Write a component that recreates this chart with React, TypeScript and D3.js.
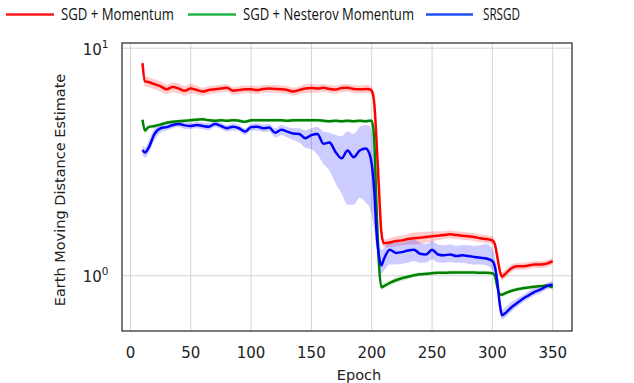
import React from "react";
import * as d3 from "d3";

const epochs = [10,12,15,20,25,30,35,40,45,50,55,60,65,70,75,80,85,90,95,100,105,110,115,120,125,130,135,140,145,150,155,160,165,170,175,180,185,190,195,198,200,202,204,206,208,210,215,220,225,230,235,240,245,250,255,260,265,270,275,280,285,290,295,300,302,304,306,308,310,315,320,325,330,335,340,345,350];

const sgdMomentum = [8.6,7.15,7.1,6.95,6.8,6.6,6.75,6.65,6.5,6.65,6.55,6.45,6.55,6.6,6.65,6.7,6.5,6.55,6.6,6.6,6.55,6.62,6.65,6.62,6.6,6.55,6.45,6.55,6.65,6.68,6.65,6.7,6.62,6.58,6.68,6.7,6.62,6.6,6.62,6.6,6.5,5.8,3.9,2.4,1.55,1.39,1.4,1.42,1.43,1.45,1.46,1.47,1.48,1.49,1.5,1.51,1.52,1.51,1.5,1.49,1.48,1.46,1.45,1.43,1.38,1.22,1.06,0.99,1.01,1.07,1.1,1.1,1.11,1.12,1.12,1.13,1.16];
const sgdMomentumSpread = [0.09,0.05,0.05,0.05,0.05,0.05,0.05,0.05,0.05,0.05,0.045,0.04,0.04,0.04,0.04,0.04,0.04,0.04,0.04,0.04,0.04,0.04,0.04,0.04,0.04,0.04,0.04,0.04,0.045,0.045,0.04,0.04,0.04,0.04,0.04,0.04,0.04,0.04,0.04,0.04,0.04,0.04,0.04,0.04,0.04,0.04,0.045,0.05,0.05,0.055,0.06,0.06,0.055,0.05,0.045,0.04,0.04,0.04,0.04,0.04,0.04,0.04,0.04,0.04,0.04,0.04,0.04,0.04,0.04,0.04,0.035,0.035,0.035,0.035,0.035,0.035,0.035];

const sgdNesterov = [4.85,4.35,4.5,4.55,4.62,4.7,4.75,4.78,4.8,4.83,4.85,4.87,4.82,4.8,4.82,4.8,4.83,4.8,4.75,4.82,4.83,4.82,4.82,4.83,4.82,4.8,4.83,4.83,4.82,4.83,4.82,4.8,4.78,4.8,4.78,4.8,4.78,4.8,4.78,4.8,4.8,4.0,2.0,1.12,0.89,0.9,0.93,0.955,0.975,0.99,1.005,1.015,1.02,1.025,1.03,1.03,1.033,1.033,1.033,1.033,1.033,1.03,1.03,1.025,1.0,0.9,0.83,0.825,0.835,0.855,0.87,0.88,0.888,0.895,0.9,0.905,0.89];
const sgdNesterovSpread = [0.05,0.03,0.02,0.02,0.02,0.02,0.02,0.02,0.02,0.02,0.02,0.02,0.02,0.02,0.02,0.02,0.02,0.02,0.02,0.02,0.02,0.02,0.02,0.02,0.02,0.02,0.02,0.02,0.02,0.02,0.02,0.02,0.02,0.02,0.02,0.02,0.02,0.02,0.02,0.02,0.02,0.02,0.03,0.03,0.03,0.03,0.03,0.03,0.03,0.025,0.02,0.02,0.02,0.02,0.02,0.02,0.02,0.02,0.02,0.02,0.02,0.02,0.02,0.02,0.02,0.02,0.025,0.025,0.025,0.02,0.02,0.02,0.02,0.02,0.02,0.02,0.025];

const srsgd = [3.57,3.48,3.65,4.2,4.45,4.5,4.6,4.65,4.58,4.55,4.6,4.55,4.52,4.65,4.55,4.45,4.52,4.45,4.3,4.5,4.52,4.45,4.48,4.25,4.38,4.3,4.22,4.2,4.02,4.15,4.2,3.8,3.85,3.5,3.28,3.55,3.32,3.55,3.62,3.45,3.1,2.4,1.55,1.22,1.11,1.18,1.3,1.26,1.27,1.29,1.3,1.25,1.24,1.3,1.24,1.23,1.24,1.22,1.23,1.22,1.21,1.2,1.19,1.16,1.1,0.95,0.76,0.67,0.68,0.72,0.755,0.79,0.82,0.85,0.87,0.9,0.915];
const srsgdLow = [3.4,3.3,3.45,3.95,4.25,4.35,4.45,4.5,4.42,4.42,4.45,4.4,4.35,4.5,4.4,4.3,4.35,4.3,4.15,4.35,4.35,4.28,4.3,4.05,4.15,4.05,3.95,3.85,3.65,3.6,3.4,3.1,2.9,2.55,2.3,2.05,2.05,2.2,2.1,2.0,1.85,1.6,1.3,1.1,1.02,1.05,1.12,1.12,1.13,1.14,1.16,1.14,1.14,1.18,1.14,1.14,1.15,1.14,1.14,1.13,1.12,1.12,1.11,1.06,1.0,0.88,0.72,0.64,0.65,0.69,0.725,0.76,0.79,0.82,0.84,0.87,0.88];
const srsgdHigh = [3.75,3.65,3.9,4.45,4.62,4.65,4.75,4.8,4.72,4.7,4.75,4.7,4.68,4.8,4.7,4.6,4.68,4.6,4.45,4.65,4.68,4.62,4.65,4.45,4.6,4.5,4.45,4.45,4.35,4.45,4.5,4.3,4.25,4.15,4.1,4.3,4.2,4.5,4.6,4.55,4.3,3.5,2.0,1.45,1.3,1.32,1.42,1.4,1.4,1.43,1.44,1.4,1.38,1.42,1.37,1.36,1.37,1.35,1.36,1.36,1.35,1.36,1.38,1.32,1.22,1.05,0.82,0.71,0.72,0.76,0.79,0.82,0.855,0.885,0.9,0.93,0.95];

const xTicks = [0,50,100,150,200,250,300,350];
const yTicks = [1,10];
const yTickExp = ["0","1"];
const legendLabels = ["SGD + Momentum","SGD + Nesterov Momentum","SRSGD"];

export default function App() {
  const W = 634, H = 383;
  const L = 122, R = 572, T = 43, B = 331;
  const x = d3.scaleLinear().domain([-7, 366]).range([L, R]);
  const y = d3.scaleLog().domain([Math.pow(10, -0.243), Math.pow(10, 1.023)]).range([B, T]);

  const mk = (vals: number[]) => vals.map((v, i) => [epochs[i], v] as [number, number]);
  const line = d3.line<[number, number]>().x(d => x(d[0])).y(d => y(d[1])).curve(d3.curveMonotoneX);
  type Band = { e: number; lo: number; hi: number };
  const area = d3.area<Band>().x(d => x(d.e)).y0(d => y(d.lo)).y1(d => y(d.hi)).curve(d3.curveMonotoneX);

  const relBand = (vals: number[], sp: number[]) => vals.map((v, i) => ({ e: epochs[i], lo: v * (1 - sp[i]), hi: v * (1 + sp[i]) }));
  const absBand = (lo: number[], hi: number[]) => lo.map((v, i) => ({ e: epochs[i], lo: v, hi: hi[i] }));

  const series = [
    { vals: sgdMomentum, band: relBand(sgdMomentum, sgdMomentumSpread), color: "#ff0000", fill: "rgba(255,0,0,0.2)" },
    { vals: sgdNesterov, band: relBand(sgdNesterov, sgdNesterovSpread), color: "#008000", fill: "rgba(0,160,0,0.15)" },
    { vals: srsgd, band: absBand(srsgdLow, srsgdHigh), color: "#0000ff", fill: "rgba(0,0,255,0.2)" },
  ];

  const legendItems = [
    { x1: 6, x2: 54, tx: 61, tw: 113, color: "#ff1a1a" },
    { x1: 188, x2: 236, tx: 243, tw: 171, color: "#22b24c" },
    { x1: 426, x2: 473, tx: 483, tw: 37, color: "#1f4ff5" },
  ];

  const tickFont = "'DejaVu Sans', sans-serif";

  return (
    <svg width={W} height={H} style={{ position: "absolute", left: 0, top: 0, background: "#fff" }}>
      <defs>
        <clipPath id="plotclip">
          <rect x={L} y={T} width={R - L} height={B - T} />
        </clipPath>
      </defs>
      <rect x={0} y={0} width={W} height={H} fill="#fff" />
      {/* grid */}
      {xTicks.map(t => (
        <line key={"gx" + t} x1={x(t)} x2={x(t)} y1={T} y2={B} stroke="#d4d4d4" strokeWidth={1} />
      ))}
      {yTicks.map(t => (
        <line key={"gy" + t} x1={L} x2={R} y1={y(t)} y2={y(t)} stroke="#d4d4d4" strokeWidth={1} />
      ))}
      <g clipPath="url(#plotclip)">
        {series.map((s, i) => (
          <path key={"b" + i} d={area(s.band) || ""} fill={s.fill} stroke="none" />
        ))}
        {series.map((s, i) => (
          <path key={"l" + i} d={line(mk(s.vals)) || ""} fill="none" stroke={s.color} strokeWidth={2.5} strokeLinejoin="round" />
        ))}
      </g>
      <rect x={L} y={T} width={R - L} height={B - T} fill="none" stroke="#333" strokeWidth={1.3} />
      {/* x tick labels */}
      {xTicks.map(t => (
        <text key={"xt" + t} x={x(t)} y={357.5} textAnchor="middle" fontFamily={tickFont} fontSize={15} fill="#222">{t}</text>
      ))}
      {/* y tick labels */}
      {yTicks.map((t, i) => (
        <text key={"yt" + t} x={108.5} y={y(t) + 6.5} textAnchor="end" fontFamily={tickFont} fontSize={15} fill="#222">
          10<tspan dy={-7} fontSize={10.5}>{yTickExp[i]}</tspan>
        </text>
      ))}
      <text x={359} y={380} textAnchor="middle" fontFamily={tickFont} fontSize={14.5} fill="#222">Epoch</text>
      <text transform={`translate(65,190) rotate(-90)`} textAnchor="middle" fontFamily={tickFont} fontSize={14.5} fill="#222">Earth Moving Distance Estimate</text>
      {/* legend */}
      {legendItems.map((it, i) => (
        <g key={"lg" + i}>
          <line x1={it.x1} x2={it.x2} y1={14.5} y2={14.5} stroke={it.color} strokeWidth={2.5} />
          <text x={it.tx} y={20} fontFamily="'Liberation Sans Narrow', 'Open Sans', sans-serif" fontSize={16} fill="#111" textLength={it.tw} lengthAdjust="spacingAndGlyphs">{legendLabels[i]}</text>
        </g>
      ))}
    </svg>
  );
}
